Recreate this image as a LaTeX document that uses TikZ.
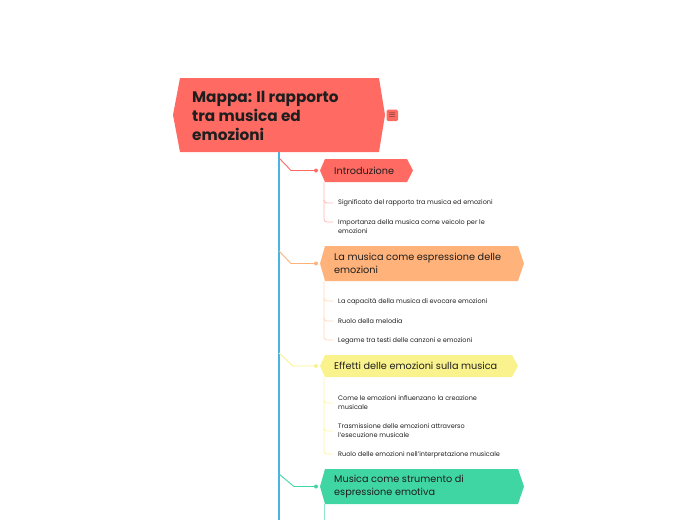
\documentclass[tikz,border=0pt]{standalone}
\usepackage{fontspec}
\setmainfont{Poppins}
\usetikzlibrary{calc}
\definecolor{cred}{HTML}{FF6B63}
\definecolor{cora}{HTML}{FFB27A}
\definecolor{cyel}{HTML}{FAF28C}
\definecolor{cgrn}{HTML}{40D6A3}
\definecolor{cblue}{HTML}{4BB3E0}
\definecolor{ctxt}{HTML}{1E1E1E}
\tikzset{
  x=1pt,y=-1pt,
  topic/.style={font=\fontsize{9.7}{13.5}\selectfont, text=ctxt, anchor=west, align=left, inner sep=0pt},
  leaf/.style={font=\fontsize{6.5}{9}\selectfont, text=ctxt, anchor=west, align=left, inner sep=0pt},
  conn/.style={line width=0.9pt},
  sub/.style={line width=0.8pt, rounded corners=3pt},
}
% hexagon: left x, right x, top y, bottom y, colour
\newcommand{\hexbox}[5]{%
  \fill[#5] (#1,{(#3+#4)/2}) -- (#1+5,#3) -- (#2-6,#3) -- (#2,{(#3+#4)/2}) -- (#2-6,#4) -- (#1+5,#4) -- cycle;}
\begin{document}
\begin{tikzpicture}
\useasboundingbox (0,0) rectangle (697,520);
% main spine
\draw[cblue, line width=1.6pt] (279,152) coordinate (spinetop) -- (279,520) coordinate (spinebot);
% root
\fill[cred] (173,115) -- (180,78) -- (379,78) -- (385,115) -- (379,152) -- (180,152) -- cycle;
\node[font=\bfseries\fontsize{15.3}{19}\selectfont, text=ctxt, anchor=west, align=left, inner sep=0pt] (root) at (192,116) {Mappa: Il rapporto\\tra musica ed\\emozioni};
\fill[cred, rounded corners=1.5pt] (386.5,109.5) rectangle (398,121);
\node[inner sep=0pt, font=\bfseries\fontsize{9}{9}\selectfont, text=ctxt] (icon) at (392.2,115.6) {$\equiv$};

% topic 1
\hexbox{320}{413}{159}{182}{cred}
\node[topic] (t1) at (334,170.5) {Introduzione};
\coordinate (s1) at (279,158);
\coordinate (d1) at (316,170.5);
\draw[cred, conn] (s1) -- (291,170.5) -- (d1);
\fill[cred] (d1) circle (2pt);
\draw[cred!50, sub] (324,182) -- (324,203) -- (333,203);
\draw[cred!50, sub] (324,200) -- (324,222) -- (333,222);
\node[leaf] (l11) at (338,203) {Significato del rapporto tra musica ed emozioni};
\node[leaf] (l12) at (338,226.5) {Importanza della musica come veicolo per le\\emozioni};

% topic 2
\hexbox{320}{524}{246}{281}{cora}
\node[topic] (t2) at (334,263.5) {La musica come espressione delle\\emozioni};
\coordinate (s2) at (279,251);
\coordinate (d2) at (316,263.5);
\draw[cora, conn] (s2) -- (291,263.5) -- (d2);
\fill[cora] (d2) circle (2pt);
\draw[cora!50, sub] (324,281) -- (324,301) -- (333,301);
\draw[cora!50, sub] (324,298) -- (324,321) -- (333,321);
\draw[cora!50, sub] (324,318) -- (324,340) -- (333,340);
\node[leaf] (l21) at (338,301.5) {La capacità della musica di evocare emozioni};
\node[leaf] (l22) at (338,321) {Ruolo della melodia};
\node[leaf] (l23) at (338,340.5) {Legame tra testi delle canzoni e emozioni};

% topic 3
\hexbox{320}{518}{355}{377}{cyel}
\node[topic] (t3) at (334,366) {Effetti delle emozioni sulla musica};
\coordinate (s3) at (279,353);
\coordinate (d3) at (316,366);
\draw[cyel, conn] (s3) -- (293,366) -- (d3);
\fill[cyel] (d3) circle (2pt);
\draw[cyel!80, sub] (324,377) -- (324,403) -- (333,403);
\draw[cyel!80, sub] (324,400) -- (324,431) -- (333,431);
\draw[cyel!80, sub] (324,428) -- (324,454) -- (333,454);
\node[leaf] (l31) at (338,402.5) {Come le emozioni influenzano la creazione\\musicale};
\node[leaf] (l32) at (338,430.5) {Trasmissione delle emozioni attraverso\\l'esecuzione musicale};
\node[leaf] (l33) at (338,454.5) {Ruolo delle emozioni nell'interpretazione musicale};

% topic 4
\hexbox{320}{524}{469}{504}{cgrn}
\node[topic] (t4) at (334,486.5) {Musica come strumento di\\espressione emotiva};
\coordinate (s4) at (279,474);
\coordinate (d4) at (316,486.5);
\draw[cgrn, conn] (s4) -- (294,486.5) -- (d4);
\fill[cgrn] (d4) circle (2pt);
\draw[cgrn!60, line width=0.8pt] (324,504) -- (324,520);
\end{tikzpicture}
\end{document}
